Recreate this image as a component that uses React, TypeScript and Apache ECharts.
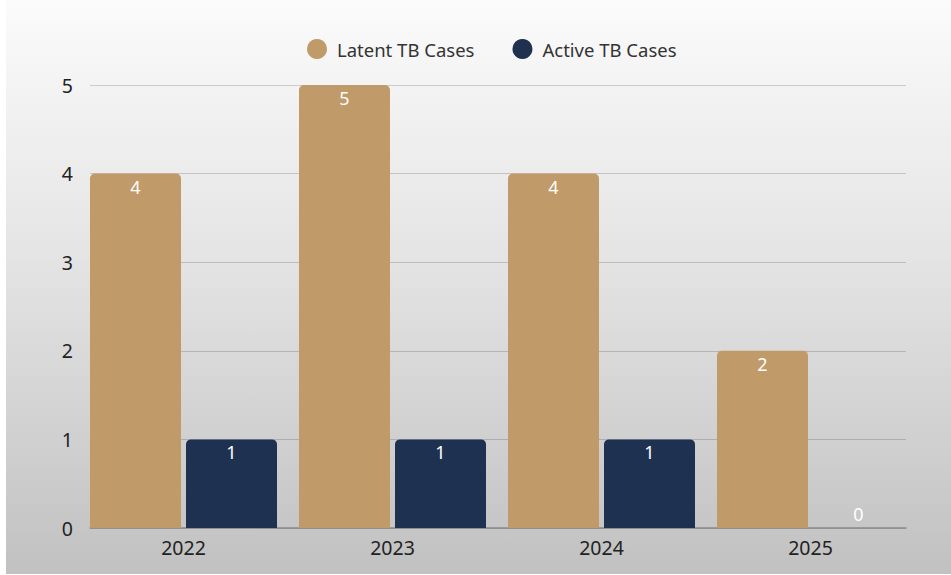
import React, { useEffect, useRef } from "react";
import * as echarts from "echarts";

const categories = ["2022", "2023", "2024", "2025"];
const latentCases = [4, 5, 4, 2];
const activeCases = [1, 1, 1, 0];
const seriesNames = ["Latent TB Cases", "Active TB Cases"];
const yTicks = { min: 0, max: 5, interval: 1 };

const FONT = "'Noto Sans', sans-serif";

function withLabels(values: number[]) {
  return values.map((v) =>
    v === 0
      ? { value: v, label: { position: "insideBottom", distance: 5 } }
      : { value: v }
  );
}

export default function App() {
  const ref = useRef<HTMLDivElement>(null);
  useEffect(() => {
    if (!ref.current) return;
    const chart = echarts.init(ref.current, undefined, { renderer: "svg" });
    const gridPos = { top: 85, bottom: 47 };
    const barLabel = {
      show: true,
      position: "insideTop",
      distance: 4,
      color: "#ffffff",
      fontSize: 18,
      fontFamily: FONT,
    };
    chart.setOption({
      animation: false,
      backgroundColor: "transparent",
      textStyle: { fontFamily: FONT },
      legend: {
        top: 39,
        left: 307,
        icon: "circle",
        itemWidth: 20,
        itemHeight: 20,
        itemGap: 38,
        padding: 0,
        textStyle: {
          fontSize: 18.5,
          color: "#333",
          fontFamily: FONT,
          padding: [0, 0, 0, 5],
        },
        data: seriesNames,
      },
      grid: [
        { left: 90, right: 45, ...gridPos },
        { left: 79, right: 36, ...gridPos },
      ],
      xAxis: [
        {
          gridIndex: 0,
          type: "category",
          data: categories,
          axisLine: { show: true, lineStyle: { color: "#8a8a8a", width: 1.5 } },
          axisTick: { show: false },
          axisLabel: { show: false },
        },
        {
          gridIndex: 1,
          type: "category",
          data: categories,
          axisLine: { show: false },
          axisTick: { show: false },
          axisLabel: { fontSize: 19.5, color: "#222", margin: 9, fontFamily: FONT },
        },
      ],
      yAxis: [
        {
          gridIndex: 0,
          type: "value",
          ...yTicks,
          axisLabel: { fontSize: 19.5, color: "#222", margin: 17, fontFamily: FONT },
          axisLine: { show: false },
          axisTick: { show: false },
          splitLine: { lineStyle: { color: "rgba(0,0,0,0.17)", width: 1 } },
        },
        {
          gridIndex: 1,
          type: "value",
          ...yTicks,
          show: false,
          splitLine: { show: false },
        },
      ],
      series: [
        {
          name: seriesNames[0],
          type: "bar",
          xAxisIndex: 1,
          yAxisIndex: 1,
          data: withLabels(latentCases),
          barWidth: 91,
          barGap: "5.5%",
          itemStyle: { color: "#c09a68", borderRadius: [5, 5, 0, 0] },
          label: barLabel,
        },
        {
          name: seriesNames[1],
          type: "bar",
          xAxisIndex: 1,
          yAxisIndex: 1,
          data: withLabels(activeCases),
          barWidth: 91,
          barGap: "5.5%",
          itemStyle: { color: "#1e3150", borderRadius: [5, 5, 0, 0] },
          label: barLabel,
        },
      ],
    });
    return () => chart.dispose();
  }, []);

  return (
    <div
      style={{
        position: "fixed",
        left: 0,
        top: 0,
        width: 951,
        height: 575,
        background: "#ffffff",
        overflow: "hidden",
      }}
    >
      <div
        style={{
          position: "absolute",
          left: 6,
          top: 0,
          width: 945,
          height: 574,
          background: "linear-gradient(to bottom, #fbfbfb 0%, #e4e4e4 45%, #c1c1c1 100%)",
        }}
      />
      <div
        ref={ref}
        style={{ position: "absolute", left: 0, top: 0, width: 951, height: 575 }}
      />
    </div>
  );
}
